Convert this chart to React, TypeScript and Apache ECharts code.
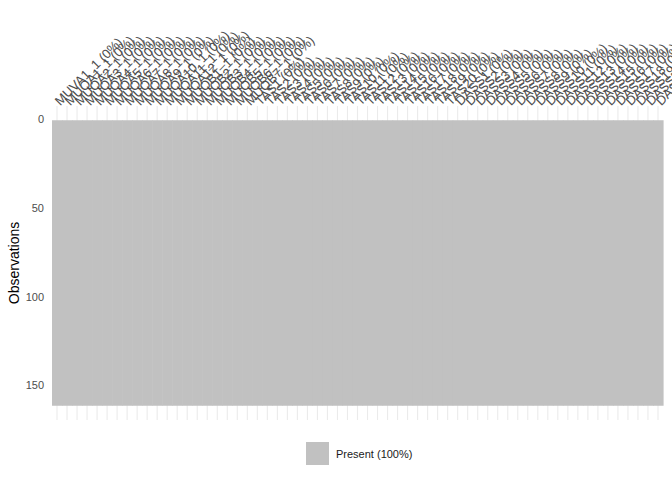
import React, { useEffect, useRef } from "react";
import * as echarts from "echarts";

const variables: string[] = [
  "MUVA1_1", "MUQA1_1", "MUQA2_1", "MUQA3_1", "MUQA4_1", "MUQA5_1", "MUQA6_1",
  "MUQA7_1", "MUQA8_1", "MUQA9_1", "MUQA10_1", "MUQA11_1", "MUQA12_1",
  "MUQB1_1", "MUQB2_1", "MUQB3_1", "MUQB4_1", "MUQB5_1", "MUQB6_1", "MUQB7_1",
  "TAS1", "TAS2", "TAS3", "TAS4", "TAS5", "TAS6", "TAS7", "TAS8", "TAS9", "TAS10",
  "TAS11", "TAS12", "TAS13", "TAS14", "TAS15", "TAS16", "TAS17", "TAS18", "TAS19", "TAS20",
  "DASS1", "DASS2", "DASS3", "DASS4", "DASS5", "DASS6", "DASS7", "DASS8", "DASS9", "DASS10",
  "DASS11", "DASS12", "DASS13", "DASS14", "DASS15", "DASS16", "DASS17", "DASS18", "DASS19",
  "DASS20", "DASS21",
];

const missingPct: number[] = [
  0, 0, 0, 0, 0, 0, 0, 0, 0, 0, 0, 0, 0, 0, 0, 0, 0, 0, 0, 0,
  0, 0, 0, 0, 0, 0, 0, 0, 0, 0, 0, 0, 0, 0, 0, 0, 0, 0, 0, 0,
  0, 0, 0, 0, 0, 0, 0, 0, 0, 0, 0, 0, 0, 0, 0, 0, 0, 0, 0, 0, 0,
];

const nObservations = 161;
const yTickValues: number[] = [0, 50, 100, 150];
const presentPct = 100;

const FONT = "'Liberation Sans', Arial, Helvetica, sans-serif";

export default function App() {
  const ref = useRef<HTMLDivElement>(null);

  useEffect(() => {
    if (!ref.current) return;
    const chart = echarts.init(ref.current, null, { renderer: "svg" });
    const yMin = 0.5 - 0.05 * nObservations;
    const yMax = nObservations + 0.5 + 0.05 * nObservations;
    const labels = variables.map((v, i) => `${v} (${missingPct[i]}%)`);
    const presentName = `Present (${presentPct}%)`;

    chart.setOption({
      animation: false,
      backgroundColor: "#ffffff",
      textStyle: { fontFamily: FONT },
      grid: {
        left: 52,
        right: 9,
        top: 106,
        bottom: 60,
        containLabel: false,
        outerBoundsMode: "none",
      },
      legend: {
        show: true,
        left: 306,
        top: 442,
        padding: 0,
        itemWidth: 23,
        itemHeight: 23,
        itemGap: 10,
        data: [{ name: presentName, icon: "rect" }],
        textStyle: { fontFamily: FONT, fontSize: 11, color: "#1a1a1a", padding: [0, 0, 0, 2] },
      },
      xAxis: {
        type: "category",
        position: "top",
        data: labels,
        boundaryGap: true,
        axisLine: { show: false },
        axisTick: { show: false },
        splitLine: { show: false },
        axisLabel: {
          interval: 0,
          rotate: 45,
          margin: 3,
          fontSize: 13,
          color: "#4d4d4d",
          fontFamily: FONT,
          hideOverlap: false,
        },
      },
      yAxis: {
        type: "value",
        inverse: true,
        min: yMin,
        max: yMax,
        name: "Observations",
        nameLocation: "middle",
        nameRotate: 90,
        nameGap: 31,
        nameMoveOverlap: false,
        nameTextStyle: { fontSize: 14, color: "#000000", fontFamily: FONT },
        axisLine: { show: false },
        axisTick: { show: false },
        splitLine: { show: false },
        axisLabel: {
          customValues: yTickValues,
          margin: 8,
          fontSize: 11,
          color: "#4d4d4d",
          fontFamily: FONT,
        },
      },
      series: [
        {
          type: "custom",
          name: presentName,
          itemStyle: { color: "#c1c1c1" },
          clip: false,
          data: variables.map((v, i) => [i, 0.5, nObservations + 0.5]),
          renderItem: (params: any, api: any) => {
            const i = api.value(0);
            const top = api.coord([i, api.value(1)]);
            const bot = api.coord([i, api.value(2)]);
            const gTop = api.coord([i, yMin]);
            const gBot = api.coord([i, yMax]);
            const w = api.size([1, 0])[0];
            return {
              type: "group",
              children: [
                {
                  type: "line",
                  shape: { x1: top[0], y1: gTop[1], x2: top[0], y2: gBot[1] },
                  style: { stroke: "#ebebeb", lineWidth: 1.1 },
                },
                {
                  type: "rect",
                  shape: { x: top[0] - w / 2, y: top[1], width: w + 0.6, height: bot[1] - top[1] },
                  style: { fill: api.visual("color") },
                },
              ],
            };
          },
        },
      ],
    });
    return () => chart.dispose();
  }, []);

  return (
    <div
      ref={ref}
      style={{ position: "absolute", left: 0, top: 0, width: 672, height: 480 }}
    />
  );
}
